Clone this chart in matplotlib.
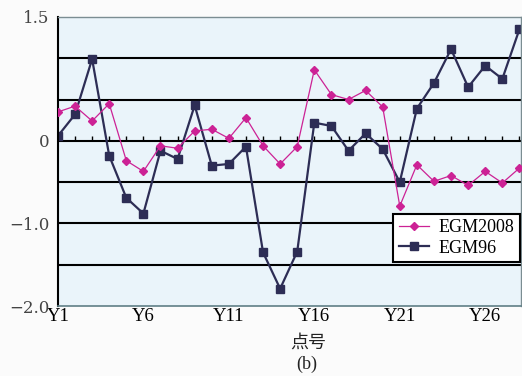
import matplotlib
matplotlib.use("Agg")
import matplotlib.pyplot as plt
import numpy as np

# point numbers Y1..Y28 and height anomaly residuals (m)
points = [f"Y{i}" for i in range(1, 29)]
egm2008 = [0.35, 0.42, 0.24, 0.45, -0.24, -0.37, -0.06, -0.09, 0.12, 0.14,
           0.03, 0.28, -0.06, -0.28, -0.07, 0.86, 0.56, 0.50, 0.61, 0.41,
           -0.79, -0.29, -0.49, -0.42, -0.54, -0.37, -0.51, -0.33]
egm96 = [0.06, 0.32, 0.99, -0.18, -0.69, -0.88, -0.12, -0.22, 0.43, -0.30,
         -0.28, -0.07, -1.35, -1.79, -1.34, 0.22, 0.18, -0.12, 0.09, -0.10,
         -0.50, 0.39, 0.70, 1.11, 0.65, 0.91, 0.75, 1.35]
ytick_vals = [1.5, 0, -1.0, -2.0]
ytick_text = ["1.5", "0", "\u22121.0", "\u22122.0"]
grid_levels = [1.0, 0.5, 0, -0.5, -1.0, -1.5]
xlabel_every = 5

serif = ["Liberation Serif", "DejaVu Serif"]
cjk = ["Noto Sans CJK SC", "DejaVu Sans"]

fig = plt.figure(figsize=(5.22, 3.76), dpi=100, facecolor="#fbfbfb")
ax = fig.add_axes([0.111, 0.186, 0.887, 0.769], facecolor="#eaf4fa")

x = np.arange(1, len(points) + 1)

for lv in grid_levels:
    ax.axhline(lv, color="black", lw=1.5, zorder=1)
# small category ticks sitting on the zero line
ax.plot(x, np.zeros(len(x)), ls="", marker=2, ms=3.5, mew=1.0,
        color="black", zorder=1)

ax.plot(x, egm2008, color="#cc2295", lw=0.9, marker="D", ms=4.5,
        mec="#cc2295", mfc="#cc2295", label="EGM2008", zorder=3)
ax.plot(x, egm96, color="#2d2d55", lw=1.6, marker="s", ms=5.5,
        mec="#2d2d55", mfc="#2d2d55", label="EGM96", zorder=2)

ax.set_xlim(1, 28.09)
ax.set_ylim(-2.0, 1.5)

ax.set_xticks(x[::xlabel_every])
ax.set_xticklabels(points[::xlabel_every], family=serif, fontsize=13.5)
ax.set_yticks(ytick_vals)
ax.set_yticklabels(ytick_text, family=["DejaVu Serif"], fontsize=12,
                   color="#444444")
ax.tick_params(length=0, pad=6)
ax.tick_params(axis="x", pad=1.5)

ax.spines["left"].set_color("black")
ax.spines["left"].set_linewidth(1.5)
ax.spines["bottom"].set_color("#5f7f86")
ax.spines["bottom"].set_linewidth(1.2)
for side in ("top", "right"):
    ax.spines[side].set_color("#7b8d92")
    ax.spines[side].set_linewidth(1.0)

leg = ax.legend(loc="upper right", bbox_to_anchor=(0.997, 0.32),
                prop={"family": serif, "size": 13}, fancybox=False,
                framealpha=1, edgecolor="black", borderpad=0.3,
                handlelength=1.7, handletextpad=0.5, labelspacing=0.2,
                borderaxespad=0)
leg.get_frame().set_linewidth(1.5)

fig.text(308 / 522, 1 - 343 / 376, "点号", family=cjk, fontsize=13,
         ha="center", va="center", color="#222222")
fig.text(307 / 522, 1 - 364 / 376, "(b)", family=serif, fontsize=13,
         ha="center", va="center", color="#222222")

fig.savefig("out.png", dpi=100, facecolor=fig.get_facecolor())
